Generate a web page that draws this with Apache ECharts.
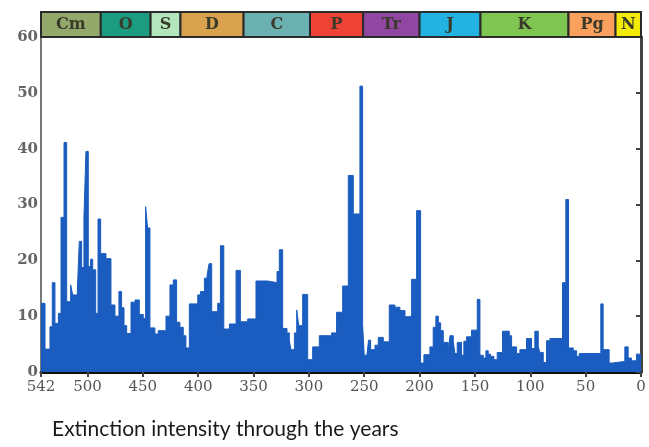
<!DOCTYPE html>
<html>
<head>
<meta charset="utf-8">
<script src="https://cdn.jsdelivr.net/npm/echarts@6/dist/echarts.min.js"></script>
<style>
  html, body { margin: 0; padding: 0; background: #fff; }
  #chart { width: 649px; height: 447px; }
</style>
</head>
<body>
<div id="chart"></div>
<script>
// geological periods (Ma)
var periodNames = ['Cm', 'O', 'S', 'D', 'C', 'P', 'Tr', 'J', 'K', 'Pg', 'N'];
var periodStart = [542, 488, 443, 416, 359, 299, 251, 200, 145, 65.5, 23];
var periodEnd = [488, 443, 416, 359, 299, 251, 200, 145, 65.5, 23, 0];

// extinction intensity (%), each bin runs from binStart[i] to binStart[i+1]
var binStart = [
  542, 538.4, 533.9, 531.8, 529.4, 526.3, 523.9, 521.2, 518.8, 515.2,
  513.4, 509.2, 507.4, 505.3, 503.2, 501.4, 499.3, 497.2, 495.3, 492.6,
  490.5, 488.1, 483.3, 478.8, 475.2, 471.6, 469.2, 467.0, 464.6, 460.7,
  457.1, 453.2, 449.6, 447.5, 445.7, 443.6, 439.1, 436.1, 429.1, 425.5,
  422.5, 419.5, 416.5, 413.5, 411.1, 408.0, 400.4, 398, 394.4, 392,
  390.2, 387.8, 382.4, 379.9, 376.9, 371.8, 365.8, 361.9, 355.3, 347.8,
  337.3, 328.8, 326.7, 323.7, 319.8, 317.7, 316.2, 313.1, 311.0, 309.2,
  305.6, 301.1, 296.6, 290.6, 279.5, 275, 269.5, 264.4, 259.9, 253.9,
  251.5, 250, 247.9, 246.1, 244.2, 240.3, 237.3, 232.8, 227.4, 222.3,
  217.8, 213.2, 210.2, 207.2, 202.7, 199.1, 196.1, 190.7, 187.7, 185.3,
  183.1, 181.0, 178.6, 174.1, 172.6, 169.6, 168.1, 166.0, 162.1, 160,
  157.6, 153.1, 147.9, 145.5, 142.5, 140.1, 138, 135.9, 132.9, 129.9,
  125.1, 119, 116.9, 112.4, 109.4, 103.4, 98.9, 95.9, 92.8, 91.3,
  88.3, 85.3, 82.3, 70.9, 67.9, 65.5, 61.2, 58.2, 55.8, 36.3,
  34.2, 28.8, 25.8, 14.6, 11.6, 8.6, 4.1
];
var intensity = [
  12.3, 4.1, 8.1, 16, 8.7, 10.5, 27.7, 41.1, 12.6, 15.6,
  13.8, 14.4, 23.4, 18.7, 27.7, 39.5, 18.9, 20.2, 18.3, 10.5,
  27.4, 21.2, 20.3, 12, 10, 14.4, 11.5, 8.3, 6.9, 12.5,
  12.9, 10.3, 9.6, 29.6, 25.8, 7.9, 6.8, 7.4, 10, 15.6,
  16.5, 8.9, 8, 6.5, 4.3, 12.2, 13.8, 14.4, 16.8, 17.3,
  19.4, 10.8, 12.3, 22.6, 7.7, 8.6, 18.2, 9, 9.5, 16.3,
  16, 18, 21.9, 7.8, 7, 5.7, 4, 7, 11.1, 8.3,
  13.9, 2.2, 4.5, 6.5, 7, 10.7, 15.4, 35.2, 28.3, 51.2,
  8.5, 3, 2.5, 5.7, 4, 4.8, 6.2, 5.4, 12, 11.6,
  11, 9.9, 10, 16.6, 28.9, 1.6, 3.1, 4.5, 8, 10,
  8.8, 7.4, 5.3, 3.3, 6.5, 5.5, 3.3, 5.3, 3, 5.5,
  6.3, 7.5, 13, 3, 2.5, 3.8, 3.2, 2.8, 2.2, 3.5,
  7.3, 6.5, 4.5, 3.3, 4, 6, 4.2, 7.3, 4.5, 3.5,
  1.7, 5.6, 6, 16, 30.9, 4.3, 3.8, 2.8, 3.3, 12.2,
  4, 1.6, 1.9, 4.5, 2.5, 2, 3.2
];
var xTicks = [542, 500, 450, 400, 350, 300, 250, 200, 150, 100, 50, 0];

var periodColor = {
  Cm: '#93a86b', O: '#1b9b80', S: '#b3e6bd', D: '#d9a24f', C: '#6cb1b1',
  P: '#ef4236', Tr: '#8f47a1', J: '#22b3e3', K: '#7fc551', Pg: '#f8a05c', N: '#f4ea08'
};

var stepData = binStart.map(function (a, i) { return [a, intensity[i]]; });
stepData.push([0, intensity[intensity.length - 1]]);

var bandData = periodNames.map(function (n, i) { return [periodStart[i], periodEnd[i]]; });

var chart = echarts.init(document.getElementById('chart'));
var option = {
  animation: false,
  title: {
    text: 'Extinction intensity through the years',
    left: 47,
    top: 414,
    textStyle: { fontFamily: 'Lato', fontSize: 21, fontWeight: 'normal', color: '#1a1a1a' }
  },
  grid: [
    { left: 41, right: 8, top: 12, height: 25, outerBoundsMode: 'none' },
    { left: 41, right: 8, top: 37, height: 335, outerBoundsMode: 'none',
      show: true, borderColor: '#777', borderWidth: 2, backgroundColor: '#fff' }
  ],
  xAxis: [
    { gridIndex: 0, type: 'value', min: 0, max: 542, inverse: true, show: false },
    {
      gridIndex: 1, type: 'value', min: 0, max: 542, inverse: true,
      splitLine: { show: false },
      axisLine: { lineStyle: { color: '#111', width: 3 } },
      axisTick: { customValues: xTicks, length: 5, lineStyle: { color: '#444', width: 2 } },
      axisLabel: {
        customValues: xTicks, margin: 8,
        fontFamily: 'DejaVu Serif', fontSize: 15, color: '#555'
      }
    }
  ],
  yAxis: [
    { gridIndex: 0, type: 'value', min: 0, max: 1, show: false },
    {
      gridIndex: 1, type: 'value', min: 0, max: 60, interval: 10,
      splitLine: { show: false },
      axisLine: { show: true, lineStyle: { color: '#444', width: 3 } },
      axisTick: { show: true, length: 5, lineStyle: { color: '#444', width: 2 } },
      axisLabel: {
        margin: 3,
        fontFamily: 'DejaVu Serif', fontSize: 15, fontWeight: 'bold', color: '#666'
      }
    }
  ],
  series: [
    {
      type: 'custom',
      xAxisIndex: 0,
      yAxisIndex: 0,
      data: bandData,
      renderItem: function (params, api) {
        var a = api.coord([api.value(0), 1]);
        var b = api.coord([api.value(1), 0]);
        var name = periodNames[params.dataIndex];
        return {
          type: 'rect',
          shape: { x: a[0], y: a[1], width: b[0] - a[0], height: b[1] - a[1] },
          style: { fill: periodColor[name], stroke: '#2a2a2a', lineWidth: 2 },
          textContent: {
            style: { text: name, fill: '#3a3a2a', font: 'bold 16px "DejaVu Serif"' }
          },
          textConfig: { position: 'inside' }
        };
      }
    },
    {
      type: 'line',
      xAxisIndex: 1,
      yAxisIndex: 1,
      step: 'end',
      symbol: 'none',
      data: stepData,
      lineStyle: { color: '#1a5cbf', width: 1 },
      areaStyle: { color: '#1a5cbf', opacity: 1 },
      z: 1
    }
  ]
};
chart.setOption(option);
</script>
</body>
</html>
